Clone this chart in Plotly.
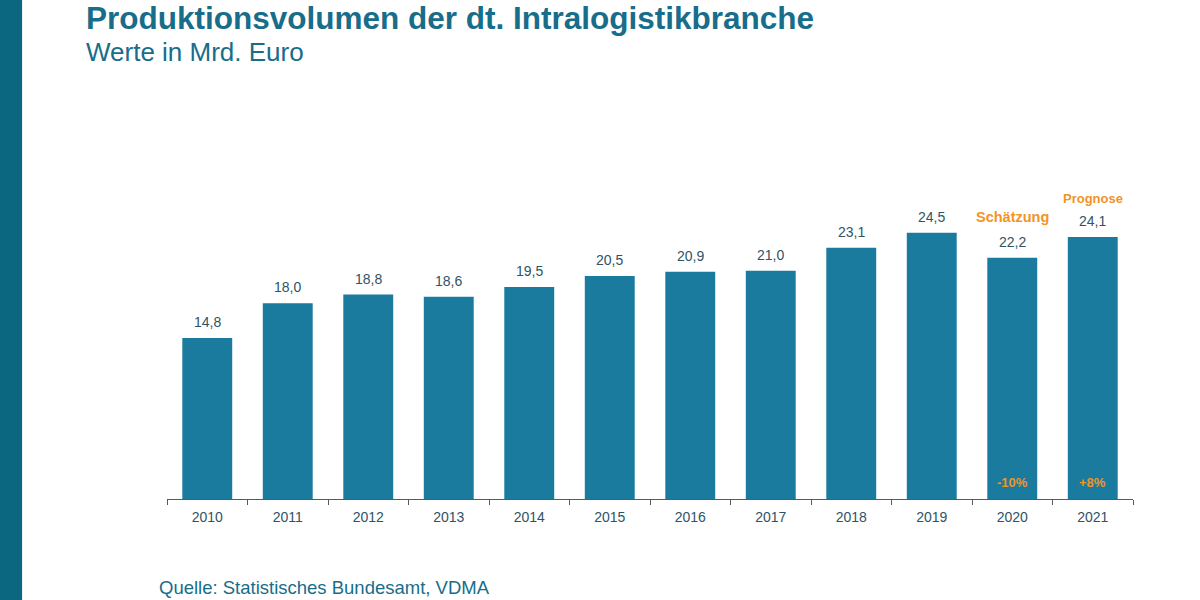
import plotly.graph_objects as go

# --- Daten ---
jahre = ["2010", "2011", "2012", "2013", "2014", "2015",
         "2016", "2017", "2018", "2019", "2020", "2021"]
volumen = [14.8, 18.0, 18.8, 18.6, 19.5, 20.5, 20.9, 21.0, 23.1, 24.5, 22.2, 24.1]
werte_text = ["14,8", "18,0", "18,8", "18,6", "19,5", "20,5",
              "20,9", "21,0", "23,1", "24,5", "22,2", "24,1"]

# Zusatzbeschriftungen (Jahr, Kennzeichnung, Veränderung)
markierung_jahre = ["2020", "2021"]
markierung_text = ["Schätzung", "Prognose"]
veraenderung = ["-10%", "+8%"]

BALKEN = "#1b7b9e"
TITEL = "#176d8a"
TEXT = "#2f5366"
ORANGE = "#f39326"
FONT = "Liberation Sans, Arial, sans-serif"

fig = go.Figure()
fig.add_trace(go.Bar(
    x=jahre, y=volumen,
    marker=dict(color=BALKEN, line=dict(width=0)),
    width=0.62,
    hoverinfo="x+y",
))

# Werte über den Balken (x als Kategorie-Index)
for i, (v, t) in enumerate(zip(volumen, werte_text)):
    fig.add_annotation(x=i, y=v, text=t, showarrow=False,
                       yanchor="bottom", yshift=6,
                       font=dict(family=FONT, size=14, color=TEXT))

# Schätzung / Prognose
for j, t, d in zip(markierung_jahre, markierung_text, veraenderung):
    i = jahre.index(j)
    v = volumen[i]
    gross = 14.5 if t == "Schätzung" else 13
    shift = 31 if t == "Schätzung" else 29
    fig.add_annotation(x=i, y=v, text=f"<b>{t}</b>", showarrow=False,
                       yanchor="bottom", yshift=shift,
                       font=dict(family=FONT, size=gross, color=ORANGE))
    fig.add_annotation(x=i, y=0, text=f"<b>{d}</b>", showarrow=False,
                       yanchor="bottom", yshift=7,
                       font=dict(family=FONT, size=13, color=ORANGE))

# Titel, Untertitel, Quelle
fig.add_annotation(xref="paper", yref="paper", x=-0.086, y=1.0, yshift=132,
                   xanchor="left", yanchor="middle", showarrow=False,
                   text="<b>Produktionsvolumen der dt. Intralogistikbranche</b>",
                   font=dict(family=FONT, size=31.5, color=TITEL))
fig.add_annotation(xref="paper", yref="paper", x=-0.086, y=1.0, yshift=98,
                   xanchor="left", yanchor="middle", showarrow=False,
                   text="Werte in Mrd. Euro",
                   font=dict(family=FONT, size=26, color=TITEL))
fig.add_annotation(xref="paper", yref="paper", x=-0.0105, y=0, yshift=-88,
                   xanchor="left", yanchor="middle", showarrow=False,
                   text="Quelle: Statistisches Bundesamt, VDMA",
                   font=dict(family=FONT, size=18.5, color=TITEL))

# Blauer Streifen links
fig.add_shape(type="rect", xref="paper", yref="paper",
              x0=-0.173, x1=-0.150, y0=-0.29, y1=1.43,
              fillcolor="#0b6680", line=dict(width=0), layer="above")

fig.update_layout(
    width=1200, height=600,
    margin=dict(l=167, r=67, t=150, b=101),
    paper_bgcolor="white", plot_bgcolor="white",
    showlegend=False,
    font=dict(family=FONT, color=TEXT),
)
fig.update_xaxes(
    type="category", range=[-0.5, 11.5],
    showline=True, linecolor="#5a5a5a", linewidth=1,
    ticks="outside", ticklen=5, tickcolor="#5a5a5a",
    tickson="boundaries", ticklabelstandoff=5,
    tickfont=dict(family=FONT, size=14, color=TEXT),
    showgrid=False,
)
fig.update_yaxes(range=[0, 32.1], visible=False, showgrid=False)

fig.write_html("out.html", config={"displayModeBar": False},
               post_script="document.body.style.margin='0';")
